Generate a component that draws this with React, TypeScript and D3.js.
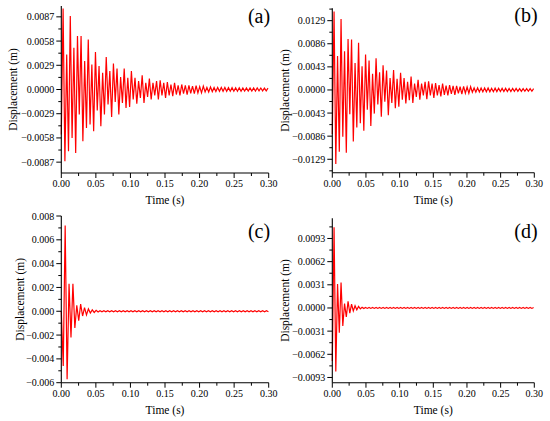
import * as d3 from "d3";

// displacement extrema, in units of 1e-3 m, one value per half period
const stepA = 0.0026;
const dispA = [
  -5.4, 9.7, -8.6, 4.2, -7.4, 8.8, -5.8, 5.0, -7.6, 6.4,
  -3.0, 6.4, -6.2, 3.4, -4.6, 6.0, -4.2, 3.0, -5.0, 4.5,
  -2.5, 2.8, -4.4, 2.0, -3.0, 3.9, -1.8, 2.2, -3.3, 3.1,
  -1.5, 2.5, -3.0, 1.5, -1.6, 2.5, -2.2, 1.4, -2.1, 2.2,
  -1.2, 1.4, -1.7, 1.0, -1.0, 1.7, -1.6, 0.8, -0.9, 1.3,
  -1.2, 0.8, -0.7, 1.0, -1.2, 1.1, -0.7, 0.8, -1.0, 0.9,
  -0.7, 0.6, -0.8, 0.8, -0.6, 0.5, -0.7, 0.6, -0.5, 0.5,
  -0.6, 0.5, -0.45, 0.4, -0.5, 0.45, -0.4, 0.35, -0.4, 0.4,
  -0.3, 0.25, -0.3, 0.3, -0.25, 0.25, -0.25, 0.25, -0.22, 0.25,
  -0.22, 0.24, -0.22, 0.22, -0.2, 0.22, -0.2, 0.2, -0.2, 0.2,
  -0.2, 0.19, -0.19, 0.19, -0.18, 0.19, -0.18, 0.18, -0.18, 0.18,
  -0.16, 0.18, -0.16, 0.16, -0.16, 0.16,
];

const stepB = 0.0026;
const dispB = [
  -8.2, 14.6, -13.8, 6.3, -11.5, 13.2, -8.7, 7.2, -11.7, 9.5,
  -4.5, 9.4, -9.6, 5.0, -7.0, 8.8, -6.2, 4.4, -7.6, 6.6,
  -3.7, 5.5, -6.7, 3.0, -4.4, 5.9, -2.7, 3.3, -5.0, 4.6,
  -2.2, 3.6, -4.7, 2.2, -2.4, 3.7, -3.4, 2.1, -3.1, 3.2,
  -1.8, 2.2, -2.5, 1.5, -1.9, 2.5, -2.4, 1.2, -1.3, 1.9,
  -1.8, 1.2, -1.0, 1.5, -1.7, 1.6, -1.0, 1.2, -1.5, 1.3,
  -1.0, 0.9, -1.2, 1.2, -0.9, 0.8, -1.0, 0.9, -0.75, 0.75,
  -0.9, 0.75, -0.65, 0.6, -0.75, 0.65, -0.6, 0.55, -0.6, 0.6,
  -0.42, 0.38, -0.42, 0.4, -0.38, 0.38, -0.36, 0.36, -0.34, 0.36,
  -0.34, 0.32, -0.32, 0.34, -0.3, 0.32, -0.3, 0.3, -0.29, 0.3,
  -0.29, 0.28, -0.28, 0.28, -0.27, 0.28, -0.26, 0.26, -0.26, 0.26,
  -0.24, 0.25, -0.24, 0.24, -0.24, 0.24,
];

const stepC = 0.0028;
const dispC = [
  0, -4.6, 7.2, -5.7, 2.3, -2.2, 2.3, -1.4, 0.5, -0.8,
  0.6, -0.4, 0.3, -0.3, 0.2, -0.15, 0.12, -0.1, 0.08, -0.06,
  0.05, -0.05, 0.05, -0.05, 0.05, -0.05, 0.05, -0.05, 0.05, -0.05,
  0.05, -0.05, 0.05, -0.05, 0.05, -0.05, 0.05, -0.05, 0.05, -0.05,
  0.05, -0.05, 0.05, -0.05, 0.05, -0.05, 0.05, -0.05, 0.05, -0.05,
  0.04, -0.04, 0.04, -0.04, 0.04, -0.04, 0.04, -0.04, 0.04, -0.04,
  0.04, -0.04, 0.04, -0.04, 0.04, -0.04, 0.04, -0.04, 0.04, -0.04,
  0.04, -0.04, 0.04, -0.04, 0.04, -0.04, 0.04, -0.04, 0.04, -0.04,
  0.04, -0.04, 0.04, -0.04, 0.04, -0.04, 0.04, -0.04, 0.04, -0.04,
  0.04, -0.04, 0.04, -0.04, 0.04, -0.04, 0.04, -0.04, 0.04, -0.04,
  0.04, -0.04, 0.04, -0.04, 0.04, -0.04, 0.04, -0.04,
];

const stepD = 0.0026;
const dispD = [
  -7.1, 10.8, -8.5, 3.2, -3.3, 3.4, -2.4, 0.6, -1.2, 0.9,
  -0.7, 0.5, -0.4, 0.3, -0.25, 0.2, -0.12, 0.1, -0.08, 0.06,
  -0.06, 0.06, -0.06, 0.06, -0.06, 0.06, -0.06, 0.06, -0.06, 0.06,
  -0.06, 0.06, -0.06, 0.06, -0.06, 0.06, -0.06, 0.06, -0.06, 0.06,
  -0.06, 0.06, -0.06, 0.06, -0.06, 0.06, -0.06, 0.06, -0.06, 0.06,
  -0.06, 0.06, -0.06, 0.06, -0.06, 0.06, -0.06, 0.06, -0.06, 0.06,
  -0.06, 0.06, -0.06, 0.06, -0.06, 0.06, -0.06, 0.06, -0.06, 0.06,
  -0.06, 0.06, -0.06, 0.06, -0.06, 0.06, -0.06, 0.06, -0.06, 0.06,
  -0.06, 0.06, -0.06, 0.06, -0.06, 0.06, -0.06, 0.06, -0.06, 0.06,
  -0.06, 0.06, -0.06, 0.06, -0.06, 0.06, -0.06, 0.06, -0.06, 0.06,
  -0.06, 0.06, -0.06, 0.06, -0.06, 0.06, -0.06, 0.06, -0.06, 0.06,
  -0.06, 0.06, -0.06, 0.06, -0.06, 0.06,
];

const timeTicks = [0, 0.05, 0.1, 0.15, 0.2, 0.25, 0.3];
const yTicksA = [-8.7, -5.8, -2.9, 0, 2.9, 5.8, 8.7];
const yTicksB = [-12.9, -8.6, -4.3, 0, 4.3, 8.6, 12.9];
const yTicksC = [-6, -4, -2, 0, 2, 4, 6, 8];
const yTicksD = [-9.3, -6.2, -3.1, 0, 3.1, 6.2, 9.3];
const panelLetters = ["(a)", "(b)", "(c)", "(d)"];

const FONT = "Liberation Serif, Times New Roman, serif";

const panels = [
  { disp: dispA, step: stepA, ticks: yTicksA, domain: [-10, 10], fmt: ".4f",
    box: [61.3, 268.7, 6, 173], letter: [259, 23], titleOff: 48 },
  { disp: dispB, step: stepB, ticks: yTicksB, domain: [-15.4, 15.2], fmt: ".4f",
    box: [332.3, 534.3, 8.3, 172.7], letter: [526, 22], titleOff: 47 },
  { disp: dispC, step: stepC, ticks: yTicksC, domain: [-6, 8], fmt: ".3f",
    box: [61.3, 268.7, 216, 382.7], letter: [259, 238], titleOff: 41 },
  { disp: dispD, step: stepD, ticks: yTicksD, domain: [-10, 12], fmt: ".4f",
    box: [332.3, 534.3, 218.3, 382.7], letter: [526, 238], titleOff: 47 },
];

function midpoints(t: number[]) {
  return t.slice(1).map((v, i) => (v + t[i]) / 2);
}

function Panel({ p, letter }: { p: (typeof panels)[number]; letter: string }) {
  const [l, r, t, b] = p.box;
  const x = d3.scaleLinear().domain([0, 0.3]).range([l, r]);
  const y = d3.scaleLinear().domain(p.domain).range([b, t]);
  const pts: [number, number][] = p.disp.map((v, i) => [i * p.step, v]);
  const line = d3.line<[number, number]>().x((d) => x(d[0])).y((d) => y(d[1]));
  const fmtY = d3.format(p.fmt);
  const fmtX = d3.format(".2f");
  const step = p.ticks[1] - p.ticks[0];
  const yMinor = [p.ticks[0] - step / 2, ...midpoints(p.ticks), p.ticks[p.ticks.length - 1] + step / 2]
    .filter((v) => v >= p.domain[0] && v <= p.domain[1]);
  const xMinor = midpoints(timeTicks);

  return (
    <g>
      <path d={line(pts)!} fill="none" stroke="#ff0000" strokeWidth={1.2} />
      <line x1={l} x2={r} y1={b} y2={b} stroke="#000" strokeWidth={1.1} />
      <line x1={l} x2={l} y1={t} y2={b} stroke="#000" strokeWidth={1.1} />
      {timeTicks.map((v) => (
        <g key={"x" + v}>
          <line x1={x(v)} x2={x(v)} y1={b} y2={b + 5} stroke="#000" strokeWidth={1} />
          <text x={x(v)} y={b + 14} textAnchor="middle" fontSize={10} fontFamily={FONT}>
            {fmtX(v)}
          </text>
        </g>
      ))}
      {xMinor.map((v) => (
        <line key={"xm" + v} x1={x(v)} x2={x(v)} y1={b} y2={b + 3} stroke="#000" strokeWidth={1} />
      ))}
      {p.ticks.map((v) => (
        <g key={"y" + v}>
          <line x1={l - 5} x2={l} y1={y(v)} y2={y(v)} stroke="#000" strokeWidth={1} />
          <text x={l - 7} y={y(v)} dy="0.35em" textAnchor="end" fontSize={10} fontFamily={FONT}>
            {fmtY(v / 1000)}
          </text>
        </g>
      ))}
      {yMinor.map((v) => (
        <line key={"ym" + v} x1={l - 3} x2={l} y1={y(v)} y2={y(v)} stroke="#000" strokeWidth={1} />
      ))}
      <text x={(l + r) / 2} y={b + 31} textAnchor="middle" fontSize={11.5} fontFamily={FONT}>
        Time (s)
      </text>
      <text
        transform={`translate(${l - p.titleOff},${(t + b) / 2}) rotate(-90)`}
        dy="0.35em"
        textAnchor="middle"
        fontSize={11.5}
        fontFamily={FONT}
      >
        Displacement (m)
      </text>
      <text x={p.letter[0]} y={p.letter[1]} textAnchor="middle" fontSize={20} fontFamily={FONT}>
        {letter}
      </text>
    </g>
  );
}

export default function App() {
  return (
    <svg
      width={550}
      height={421}
      style={{ position: "absolute", left: 0, top: 0, background: "#fff" }}
    >
      {panels.map((p, i) => (
        <Panel key={i} p={p} letter={panelLetters[i]} />
      ))}
    </svg>
  );
}
